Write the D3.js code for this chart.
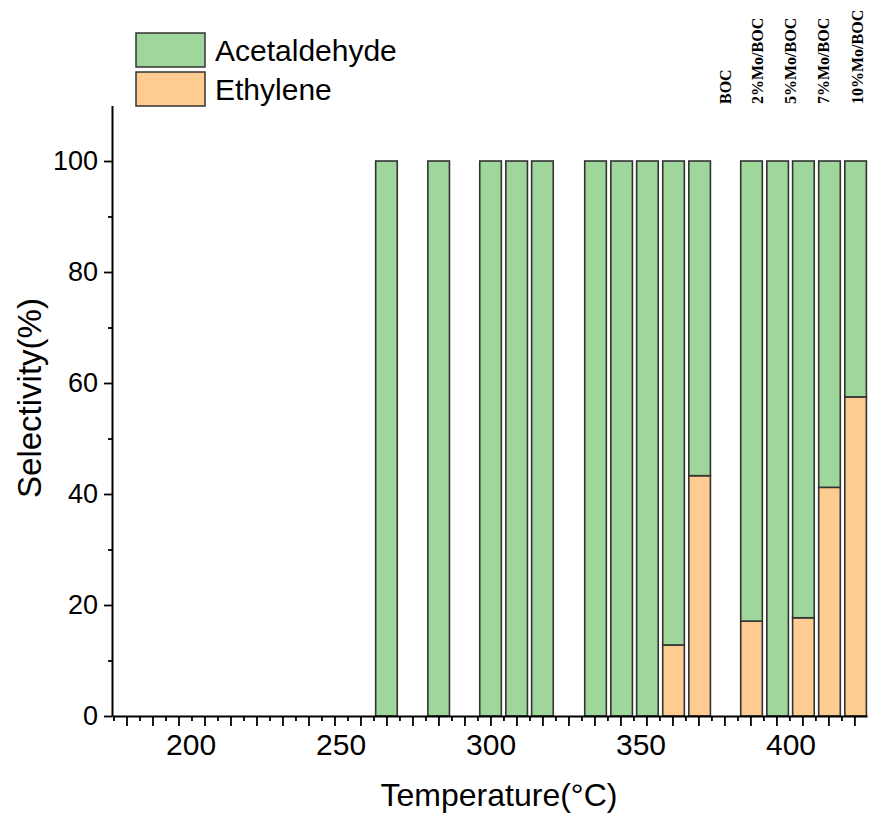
<!DOCTYPE html>
<html>
<head>
<meta charset="utf-8">
<script src="https://cdn.jsdelivr.net/npm/d3@7"></script>
<style>
  body { margin: 0; background: #fff; }
  text { font-family: "Liberation Sans", Arial, sans-serif; }
  text.sample { font-family: "Liberation Serif", "Times New Roman", serif; font-weight: bold; }
</style>
</head>
<body>
<div id="chart"></div>
<script>
// temperatures of the bars
var temps = [265.3, 282.7, 300, 308.7, 317.3, 335, 343.7, 352.3, 361, 369.7, 387, 395.7, 404.3, 413, 421.7];
var ethylene = [0, 0, 0, 0, 0, 0, 0, 0, 12.8, 43.3, 17.1, 0, 17.7, 41.2, 57.5];
var acetaldehyde = [100, 100, 100, 100, 100, 100, 100, 100, 87.2, 56.7, 82.9, 100, 82.3, 58.8, 42.5];
var seriesNames = ["Acetaldehyde", "Ethylene"];
var xTickLabels = [200, 250, 300, 350, 400];
var yTickLabels = [0, 20, 40, 60, 80, 100];
var yMinorTicks = [10, 30, 50, 70, 90];
var sampleLabels = ["BOC", "2%Mo/BOC", "5%Mo/BOC", "7%Mo/BOC", "10%Mo/BOC"];
var sampleLabelX = [725, 757, 790, 823, 857];

var width = 871, height = 813;
var colors = { "Acetaldehyde": "#9ed69b", "Ethylene": "#fecc90" };

var svg = d3.select("#chart").append("svg")
    .attr("width", width)
    .attr("height", height);

var x = d3.scaleLinear().domain([173.8, 425.5]).range([112, 867]);
var y = d3.scaleLinear().domain([0, 110]).range([716, 105.5]);

var barW = 7.2; // in degrees

// stack the two series
var rows = temps.map(function(t, i) {
    return { t: t, Ethylene: ethylene[i], Acetaldehyde: acetaldehyde[i] };
});
var stack = d3.stack().keys(["Ethylene", "Acetaldehyde"]);
var layers = stack(rows);

var g = svg.append("g");
g.selectAll("g.layer")
    .data(layers)
    .enter().append("g")
    .attr("class", "layer")
    .attr("fill", function(d) { return colors[d.key]; })
    .selectAll("rect")
    .data(function(d) { return d.filter(function(p) { return p[1] - p[0] > 0; }); })
    .enter().append("rect")
    .attr("x", function(d) { return x(d.data.t - barW / 2); })
    .attr("width", function(d) { return x(d.data.t + barW / 2) - x(d.data.t - barW / 2); })
    .attr("y", function(d) { return y(d[1]); })
    .attr("height", function(d) { return y(d[0]) - y(d[1]); })
    .attr("stroke", "#333")
    .attr("stroke-width", 1.6);

// x axis: bar-slot ticks (long) and half ticks (short), plus temperature labels
var slotStep = 26 / 3;
var longTicks = [], shortTicks = [];
for (var k = -10; k <= 18; k++) {
    longTicks.push(temps[0] + k * slotStep);
    shortTicks.push(temps[0] + (k - 0.5) * slotStep);
}
shortTicks.push(temps[0] + 18.5 * slotStep);
shortTicks = shortTicks.filter(function(t) { return t >= 173.7 && t <= 425.6; });

var xAxisG = svg.append("g").attr("transform", "translate(0," + y(0) + ")");
xAxisG.append("g")
    .call(d3.axisBottom(x).tickValues(longTicks).tickSize(10).tickSizeOuter(0).tickFormat(""))
    .call(function(a) { a.select(".domain").attr("stroke-width", 2); a.selectAll(".tick line").attr("stroke-width", 1.8); });
xAxisG.append("g")
    .call(d3.axisBottom(x).tickValues(shortTicks).tickSize(5).tickSizeOuter(0).tickFormat(""))
    .call(function(a) { a.select(".domain").remove(); a.selectAll(".tick line").attr("stroke-width", 1.8); });
xAxisG.append("g")
    .call(d3.axisBottom(x).tickValues(xTickLabels).tickSize(0).tickPadding(18))
    .call(function(a) {
        a.select(".domain").remove();
        a.selectAll(".tick text").attr("font-size", 30).attr("fill", "#000");
    });

// y axis
var yAxisG = svg.append("g").attr("transform", "translate(" + x(173.8) + ",0)");
yAxisG.append("g")
    .call(d3.axisLeft(y).tickValues(yTickLabels).tickSize(8).tickSizeOuter(0).tickPadding(6))
    .call(function(a) {
        a.select(".domain").attr("stroke-width", 2);
        a.selectAll(".tick line").attr("stroke-width", 1.8);
        a.selectAll(".tick text").attr("font-size", 27).attr("fill", "#000");
    });
yAxisG.append("g")
    .call(d3.axisLeft(y).tickValues(yMinorTicks).tickSize(4).tickFormat(""))
    .call(function(a) { a.select(".domain").remove(); a.selectAll(".tick line").attr("stroke-width", 1.8); });

// axis titles
svg.append("text")
    .attr("x", 499).attr("y", 806)
    .attr("text-anchor", "middle")
    .attr("font-size", 32)
    .text("Temperature(°C)");

svg.append("text")
    .attr("transform", "translate(41,398) rotate(-90)")
    .attr("text-anchor", "middle")
    .attr("font-size", 33)
    .text("Selectivity(%)");

// legend
var legend = svg.append("g");
seriesNames.forEach(function(name, i) {
    legend.append("rect")
        .attr("x", 136).attr("y", 33 + i * 39)
        .attr("width", 69).attr("height", 34)
        .attr("fill", colors[name])
        .attr("stroke", "#333").attr("stroke-width", 1.5);
    legend.append("text")
        .attr("x", 215).attr("y", 61 + i * 39)
        .attr("font-size", 30)
        .text(name);
});

// sample labels on top
svg.selectAll("text.sample")
    .data(sampleLabels)
    .enter().append("text")
    .attr("class", "sample")
    .attr("transform", function(d, i) { return "translate(" + (sampleLabelX[i] + 6) + ",104) rotate(-90)"; })
    .attr("font-size", 16)
    .text(function(d) { return d; });
</script>
</body>
</html>
